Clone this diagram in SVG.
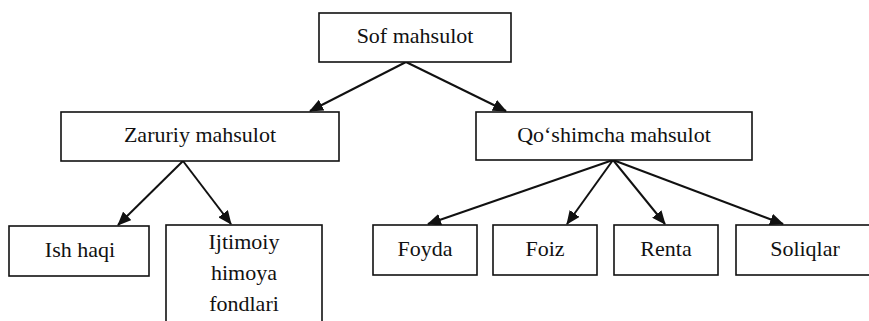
<svg xmlns="http://www.w3.org/2000/svg" width="869" height="321" viewBox="0 0 869 321">
<style>
  .box { fill: #fff; stroke: #111; stroke-width: 1.6; }
  .lbl { font-size: 22px; fill: #111; text-anchor: middle; }
  .edge { stroke: #111; stroke-width: 2; fill: none; marker-end: url(#arrow); }
</style>
<defs>
  <marker id="arrow" markerUnits="userSpaceOnUse" markerWidth="14" markerHeight="12" viewBox="0 0 14 12" refX="13" refY="6" orient="auto">
    <path d="M0,0 L14,6 L0,12 Z" fill="#111"/>
  </marker>
</defs>
<rect width="869" height="321" fill="#fff"/>
<g id="connectors">
  <line class="edge" x1="406" y1="62" x2="310" y2="111"/>
  <line class="edge" x1="406" y1="62" x2="506" y2="111"/>
  <line class="edge" x1="183" y1="161" x2="118" y2="225"/>
  <line class="edge" x1="183" y1="161" x2="231" y2="224"/>
  <line class="edge" x1="613" y1="160" x2="428" y2="224"/>
  <line class="edge" x1="613" y1="160" x2="567" y2="224"/>
  <line class="edge" x1="613" y1="160" x2="665" y2="224"/>
  <line class="edge" x1="613" y1="160" x2="783" y2="224"/>
</g>
<g font-family="'Liberation Serif', 'Times New Roman', Times, 'DejaVu Serif', serif">
<g id="sof">
  <rect class="box" x="319" y="13" width="192" height="49"/>
  <text class="lbl" x="415" y="43">Sof mahsulot</text>
</g>
<g id="zaruriy">
  <rect class="box" x="61" y="112" width="278" height="49"/>
  <text class="lbl" x="200" y="142">Zaruriy mahsulot</text>
</g>
<g id="qoshimcha">
  <rect class="box" x="476" y="112" width="276" height="48"/>
  <text class="lbl" x="614" y="142">Qo‘shimcha mahsulot</text>
</g>
<g id="ishhaqi">
  <rect class="box" x="9" y="226" width="140" height="50"/>
  <text class="lbl" x="80" y="257">Ish haqi</text>
</g>
<g id="ijtimoiy">
  <rect class="box" x="166" y="225" width="156" height="110"/>
  <text class="lbl" x="244" y="249">Ijtimoiy</text>
  <text class="lbl" x="244" y="280">himoya</text>
  <text class="lbl" x="244" y="311">fondlari</text>
</g>
<g id="foyda">
  <rect class="box" x="373" y="225" width="104" height="50"/>
  <text class="lbl" x="425" y="256">Foyda</text>
</g>
<g id="foiz">
  <rect class="box" x="493" y="225" width="104" height="50"/>
  <text class="lbl" x="545" y="256">Foiz</text>
</g>
<g id="renta">
  <rect class="box" x="614" y="225" width="104" height="50"/>
  <text class="lbl" x="666" y="256">Renta</text>
</g>
<g id="soliqlar">
  <rect class="box" x="736" y="225" width="150" height="50"/>
  <text class="lbl" x="805" y="256">Soliqlar</text>
</g>
</g>
</svg>
